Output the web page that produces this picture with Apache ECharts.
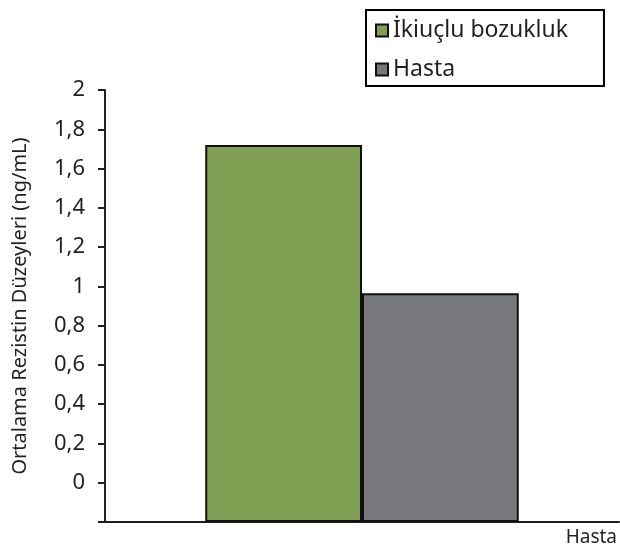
<!DOCTYPE html>
<html lang="tr">
<head>
    <meta charset="UTF-8">
    <title>Rezistin</title>
    <script src="https://cdn.jsdelivr.net/npm/echarts@6.0.0/dist/echarts.min.js"></script>
    <style>
        html, body { margin: 0; padding: 0; background: #fff; }
        #chart { width: 620px; height: 553px; }
    </style>
</head>
<body>
<div id="chart"></div>
<script>
    // veriler
    var categories = ['Hasta'];
    var seriesNames = ['İkiuçlu bozukluk', 'Hasta'];
    var bipolarValues = [1.72];
    var hastaValues = [0.965];
    // ölçekte etiketler bir aralık yukarı kaymış: alt çizgi -0,2
    var labelOffset = 0.2;
    var colors = ['#7fa053', '#77787c'];

    var chart = echarts.init(document.getElementById('chart'));
    var font = 'Noto Sans';

    function shift(arr) {
        return arr.map(function (v) { return +(v + labelOffset).toFixed(3); });
    }

    var option = {
        animation: false,
        textStyle: { fontFamily: font, color: '#231f20' },
        legend: {
            orient: 'vertical',
            left: 366,
            top: 10,
            padding: [9, 36, 5, 9],
            itemGap: 16,
            itemWidth: 12,
            itemHeight: 12,
            icon: 'rect',
            borderColor: '#000',
            borderWidth: 2,
            textStyle: { fontSize: 23, color: '#231f20', fontFamily: font },
            data: seriesNames
        },
        grid: { left: 105, right: 0, top: 90, bottom: 31 },
        xAxis: {
            type: 'category',
            data: categories,
            name: 'Hasta',
            nameLocation: 'end',
            nameGap: -2,
            nameTextStyle: { fontSize: 19, color: '#231f20', align: 'right', verticalAlign: 'top', padding: [6, 0, 0, 0] },
            axisLine: { lineStyle: { color: '#231f20', width: 2 } },
            axisTick: { show: false },
            axisLabel: { show: false }
        },
        yAxis: {
            type: 'value',
            min: 0,
            max: 2.2,
            interval: 0.2,
            name: 'Ortalama Rezistin Düzeyleri (ng/mL)',
            nameLocation: 'middle',
            nameGap: 75,
            nameTextStyle: { fontSize: 20, color: '#231f20' },
            axisLine: { show: true, lineStyle: { color: '#231f20', width: 2 } },
            axisTick: { show: true, length: 7, lineStyle: { color: '#231f20', width: 2 } },
            splitLine: { show: false },
            axisLabel: {
                fontSize: 22,
                color: '#231f20',
                margin: 20,
                formatter: function (v) {
                    if (v < 0.1) return '';
                    var s = +(v - labelOffset).toFixed(1);
                    return String(s).replace('.', ',');
                }
            }
        },
        series: [
            {
                name: seriesNames[0],
                type: 'bar',
                data: shift(bipolarValues),
                barGap: '0%',
                barCategoryGap: '39%',
                itemStyle: { color: colors[0], borderColor: '#111', borderWidth: 2 }
            },
            {
                name: seriesNames[1],
                type: 'bar',
                data: shift(hastaValues),
                itemStyle: { color: colors[1], borderColor: '#111', borderWidth: 2 }
            }
        ]
    };

    chart.setOption(option);
</script>
</body>
</html>
